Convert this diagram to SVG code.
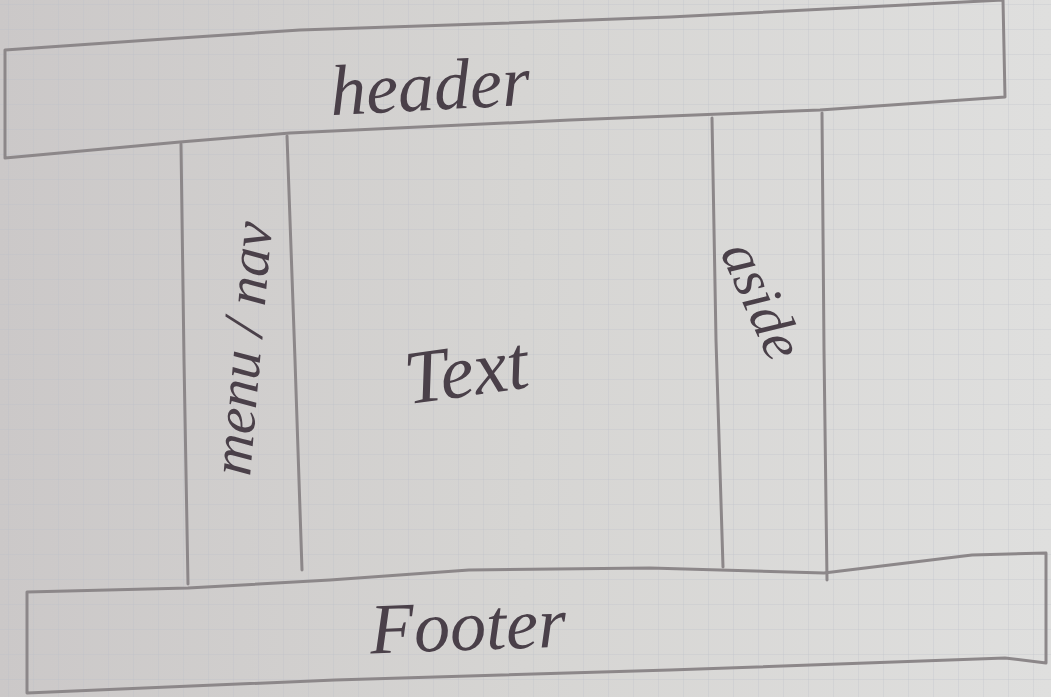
<svg xmlns="http://www.w3.org/2000/svg" width="1051" height="697" viewBox="0 0 1051 697">
  <defs>
    <!-- paper tone: a little darker on the left -->
    <linearGradient id="paper" x1="0" y1="0" x2="1" y2="0">
      <stop offset="0" stop-color="#cbc8c8"/>
      <stop offset="0.5" stop-color="#d6d5d3"/>
      <stop offset="1" stop-color="#dfdfde"/>
    </linearGradient>
    <!-- squared grid of the notebook page -->
    <pattern id="grid" width="25" height="25" patternUnits="userSpaceOnUse" x="8" y="4">
      <path d="M0 0V25M0 0H25" fill="none" stroke="#b9bcc6" stroke-width="1" opacity="0.55"/>
    </pattern>
    <style>
      .pencil { fill: none; stroke: #8c8789; stroke-width: 3; stroke-linecap: round; stroke-linejoin: round; }
      .ink { font-family: "Liberation Serif", serif; font-style: italic; fill: #4a4049; }
    </style>
  </defs>

  <rect width="1051" height="697" fill="url(#paper)"/>
  <rect width="1051" height="697" fill="url(#grid)"/>

  <g id="header">
    <path class="pencil" d="M5 158 L5 50 L150 40 L300 30 L480 24 L670 17 L905 5 L1003 0 L1005 97 L820 110 L570 120 L290 133 L180 142 L5 158"/>
    <text class="ink" x="430" y="110" font-size="72" text-anchor="middle" transform="rotate(-3 430 90)">header</text>
  </g>

  <g id="menu-nav">
    <path class="pencil" d="M181 144 L184 360 L188 584"/>
    <path class="pencil" d="M287 136 L295 360 L302 570"/>
    <text class="ink" x="0" y="0" font-size="58" text-anchor="middle" transform="translate(261 350) rotate(-85)">menu / nav</text>
  </g>

  <g id="text">
    <text class="ink" x="466" y="396" font-size="76" text-anchor="middle" transform="rotate(-8 466 370)">Text</text>
  </g>

  <g id="aside">
    <path class="pencil" d="M712 118 L716 340 L723 567"/>
    <path class="pencil" d="M822 113 L824 350 L827 580"/>
    <text class="ink" x="0" y="0" font-size="58" text-anchor="middle" transform="translate(745 308) rotate(66)">aside</text>
  </g>

  <g id="footer">
    <path class="pencil" d="M27 592 L188 588 L330 580 L469 570 L650 568 L824 573 L972 555 L1046 553 L1046 663 L1005 658 L670 670 L335 680 L27 693 Z"/>
    <text class="ink" x="468" y="650" font-size="72" text-anchor="middle" transform="rotate(-2 468 628)">Footer</text>
  </g>
</svg>
